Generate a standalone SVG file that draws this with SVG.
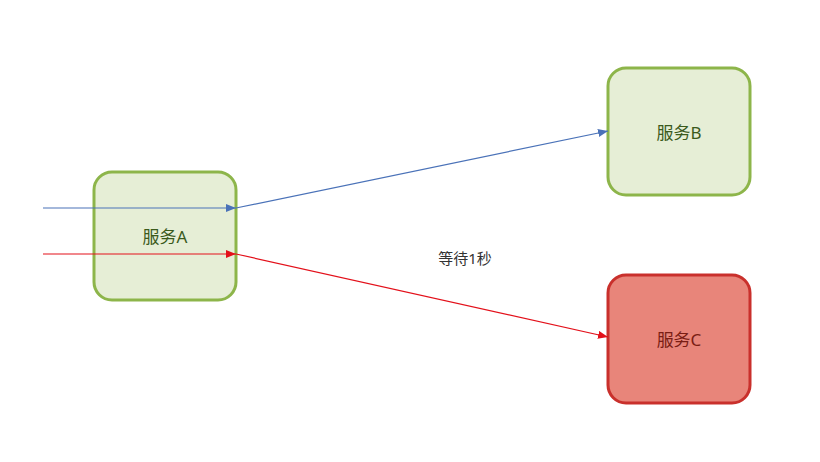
<svg xmlns="http://www.w3.org/2000/svg" width="820" height="462" viewBox="0 0 820 462">
<style>
.g rect{fill:#e6eed6;stroke:#8db54a;stroke-width:3}
.r rect{fill:#e8857a;stroke:#c9302c;stroke-width:3}
text{font-family:"Noto Sans","Noto Sans CJK SC",sans-serif;font-size:17px;text-anchor:middle;dominant-baseline:central}
.g text{fill:#3b5a1c}.r text{fill:#7a1d14}
</style>
<defs>
<marker id="ab" markerWidth="10" markerHeight="8" refX="10" refY="4" orient="auto" markerUnits="userSpaceOnUse"><path d="M0,0L10,4L0,8z" fill="#4a72b8"/></marker>
<marker id="ar" markerWidth="10" markerHeight="8" refX="10" refY="4" orient="auto" markerUnits="userSpaceOnUse"><path d="M0,0L10,4L0,8z" fill="#e3101a"/></marker>
</defs>
<rect width="820" height="462" fill="#fff"/>
<g id="nodeA" class="g"><rect x="94" y="172" width="142" height="128" rx="18"/><text x="165" y="236">服务A</text></g>
<g id="nodeB" class="g"><rect x="608" y="68" width="142" height="127" rx="18"/><text x="679" y="132">服务B</text></g>
<g id="nodeC" class="r"><rect x="608" y="275" width="142" height="128" rx="18"/><text x="679" y="339">服务C</text></g>
<g id="connectors" fill="none" stroke-width="1.2">
<line x1="43" y1="208" x2="236" y2="208" stroke="#4a72b8" marker-end="url(#ab)"/>
<line x1="236" y1="208" x2="608" y2="131" stroke="#4a72b8" marker-end="url(#ab)"/>
<line x1="43" y1="254" x2="236" y2="254" stroke="#e3101a" marker-end="url(#ar)"/>
<line x1="236" y1="254" x2="608" y2="337" stroke="#e3101a" marker-end="url(#ar)"/>
</g>
<text x="465" y="258" style="font-size:15px;fill:#333">等待1秒</text>
</svg>
